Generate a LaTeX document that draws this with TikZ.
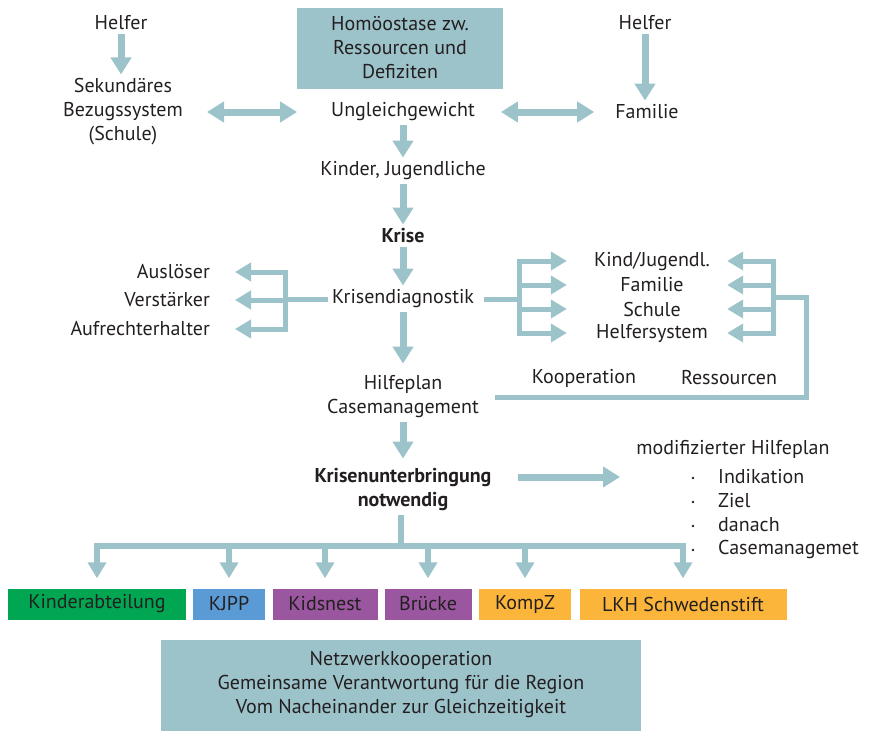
\documentclass[tikz,border=0pt]{standalone}
\usepackage{fontspec}
\setmainfont{PT Sans}
\usetikzlibrary{arrows.meta}

\definecolor{blaugrau}{HTML}{9DC3CA}
\definecolor{schrift}{HTML}{231F20}
\definecolor{gruen}{HTML}{00A651}
\definecolor{blau}{HTML}{5B9BD5}
\definecolor{lila}{HTML}{9A57A0}
\definecolor{orange}{HTML}{FBB53B}

\tikzset{
  lbl/.style={font=\fontsize{20}{24}\selectfont, text=schrift, align=center, inner sep=4pt},
  fett/.style={lbl, font=\fontsize{20}{24}\selectfont\bfseries},
  fat/.style={line width=7pt, draw=blaugrau, -{Triangle[width=20pt,length=17pt]}},
  fatboth/.style={fat, {Triangle[width=20pt,length=17pt]}-{Triangle[width=20pt,length=17pt]}},
  zweig/.style={line width=5pt, draw=blaugrau},
  zweigarr/.style={zweig, -{Triangle[width=18pt,length=16pt]}},
  einr/.style={lbl, minimum height=31pt, inner sep=0pt},
  kasten/.style={lbl, fill=blaugrau},
}

\begin{document}
\begin{tikzpicture}[x=1pt,y=-1pt]
    \useasboundingbox (0,0) rectangle (871,731);
    % oberer Teil
    \node[kasten, minimum width=206pt, minimum height=81pt] (homoe) at (400,48) {Homöostase zw.\\Ressourcen und\\Defiziten};
    \node[lbl] (helferL) at (121,23) {Helfer};
    \node[lbl] (helferR) at (645,23) {Helfer};
    \node[lbl] (sek) at (123,112) {Sekundäres\\Bezugssystem\\(Schule)};
    \node[lbl] (ungl) at (403,112) {Ungleichgewicht};
    \node[lbl] (fam) at (647,112) {Familie};
    \node[lbl] (kiju) at (403,171) {Kinder, Jugendliche};
    \node[fett] (krise) at (403,236) {Krise};
    \node[lbl] (diag) at (403,299) {Krisendiagnostik};
    \node[lbl] (hilfe) at (403,397) {Hilfeplan\\Casemanagement};
    \node[fett] (krun) at (403,490) {Krisenunterbringung\\notwendig};

    \draw[fat] (helferL) -- (helferL |- sek.north);
    \draw[fat] (helferR) -- (helferR |- fam.north);
    \draw[fatboth, shorten <=20pt, shorten >=30pt] (sek) -- (ungl);
    \draw[fatboth, shorten <=22pt, shorten >=17pt] (ungl) -- (fam);
    \draw[fat] (ungl) -- (kiju);
    \draw[fat] (kiju) -- (krise);
    \draw[fat] (krise) -- (diag);
    \draw[fat, shorten >=8pt] (diag) -- (hilfe);
    \draw[fat, shorten >=6pt] (hilfe) -- (krun);

    % Diagnostik links
    \node[lbl, anchor=east] (ausl) at (214,272) {Auslöser};
    \node[lbl, anchor=east] (verst) at (214,300) {Verstärker};
    \node[lbl, anchor=east] (aufr) at (214,329) {Aufrechterhalter};
    \coordinate (lj) at (285,299);
    \draw[zweig] (diag) -- (lj);
    \foreach \z in {ausl,verst,aufr}
        \draw[zweigarr, shorten >=21pt] (lj) |- (\z);

    % Diagnostik rechts
    \node[lbl, minimum width=150pt] (kind) at (652,261) {Kind/Jugendl.};
    \node[lbl, minimum width=150pt] (famr) at (652,285) {Familie};
    \node[lbl, minimum width=150pt] (schu) at (652,309) {Schule};
    \node[lbl, minimum width=150pt] (hsys) at (652,333) {Helfersystem};
    \coordinate (rj) at (519,299);
    \coordinate (rr) at (773,297);
    \coordinate (rc) at (806,297);
    \draw[zweig, shorten <=6pt] (diag) -- (rj);
    \foreach \z in {kind,famr,schu,hsys}{
        \draw[zweigarr, shorten >=10pt] (rj) |- (\z);
        \draw[zweigarr] (rr) |- (\z);
    }
    \draw[zweig, shorten >=12pt] (rr) -- (rc) |- (hilfe);
    \node[lbl] (koop) at (584,378) {Kooperation};
    \node[lbl] (ress) at (729,378) {Ressourcen};

    % modifizierter Hilfeplan
    \node[lbl] (mhp) at (733,449) {modifizierter Hilfeplan};
    \foreach \t [count=\i] in {Indikation,Ziel,danach,Casemanagemet}{
        \node[lbl, anchor=west, inner sep=0pt] (it\i) at (718,453+24*\i) {\t};
        \fill[schrift] (693,454+24*\i) circle (1.4pt);
    }
    \coordinate (mz) at (620,477);
    \draw[fat, shorten <=22pt] (krun.east |- mz) -- (mz);

    % Einrichtungen
    \node[einr, fill=gruen, minimum width=178pt] (kabt) at (97,604) {Kinderabteilung};
    \node[einr, fill=blau, minimum width=72pt] (kjpp) at (229,604) {KJPP};
    \node[einr, fill=lila, minimum width=105pt] (nest) at (325,604) {Kidsnest};
    \node[einr, fill=lila, minimum width=87pt] (brue) at (428,604) {Brücke};
    \node[einr, fill=orange, minimum width=92pt] (komp) at (525,604) {KompZ};
    \node[einr, fill=orange, minimum width=207pt] (lkh) at (683,604) {LKH Schwedenstift};
    \coordinate (tj) at (401,546);
    \draw[zweig, line width=6pt] (krun.south -| tj) -- (tj);
    \foreach \z in {kabt,kjpp,nest,brue,komp,lkh}
        \draw[zweigarr, line width=6pt, shorten >=10pt] (tj) -| (\z);

    \node[kasten, minimum width=480pt, minimum height=91pt] (netz) at (401,685) {Netzwerkkooperation\\Gemeinsame Verantwortung für die Region\\Vom Nacheinander zur Gleichzeitigkeit};
\end{tikzpicture}
\end{document}
